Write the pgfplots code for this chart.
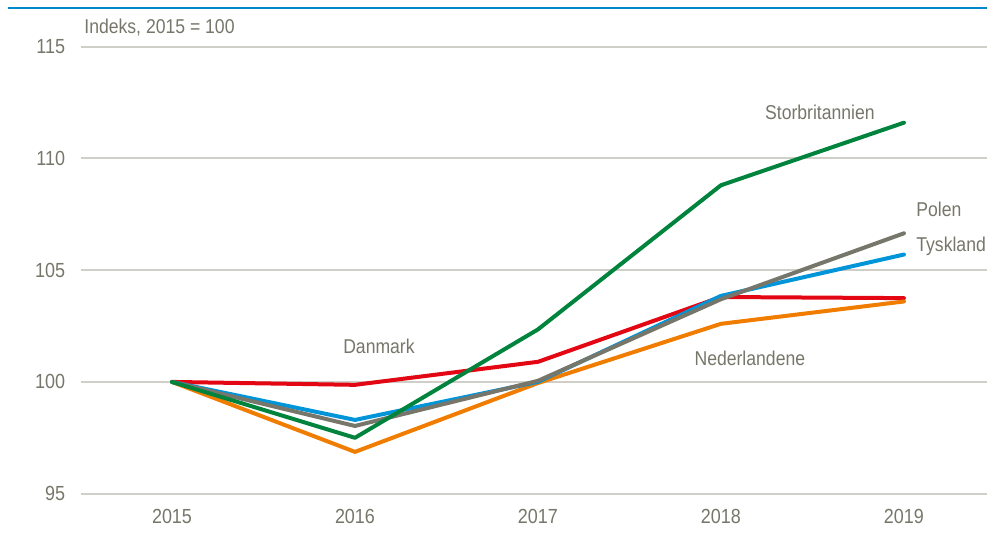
\documentclass[border=0pt]{standalone}
\usepackage{pgfplots}
\pgfplotsset{compat=1.18}
\usepackage{fontspec}
\setmainfont{Liberation Sans}[FakeStretch=0.88]
\definecolor{txtgray}{HTML}{77766A}
\definecolor{gridgray}{HTML}{D0CFC7}
\definecolor{topblue}{HTML}{0088CC}
\definecolor{dkred}{HTML}{E30613}
\definecolor{dkorange}{HTML}{F07D00}
\definecolor{deblue}{HTML}{0095D9}
\definecolor{plgray}{HTML}{77766A}
\definecolor{ukgreen}{HTML}{00843D}
\begin{document}
\begin{tikzpicture}
\begin{axis}[
    scale only axis,
    width=453pt, height=223.5pt,
    xmin=-0.497, xmax=4.454,
    ymin=95, ymax=115,
    axis line style={draw=none},
    clip=false,
    xtick={0,1,2,3,4},
    xticklabels={2015,2016,2017,2018,2019},
    ytick={95,100,105,110,115},
    ymajorgrids=true,
    grid style={gridgray, line width=1pt},
    major tick length=0pt,
    tick label style={font=\fontsize{10.2}{12}\selectfont, text=txtgray},
    /pgf/number format/assume math mode=true,
    yticklabel style={xshift=-4.5pt},
    xticklabel style={yshift=-4.5pt},
    every axis plot/.append style={line width=2pt, line join=round, line cap=round},
]
\draw[topblue, line width=1.2pt] (axis cs:-0.897,116.73) -- (axis cs:4.454,116.73);
\addplot[dkred] coordinates {(0,100) (1,99.87) (2,100.9) (3,103.8) (4,103.75)};
\addplot[dkorange] coordinates {(0,100) (1,96.87) (2,99.95) (3,102.6) (4,103.6)};
\addplot[deblue] coordinates {(0,100) (1,98.3) (2,100) (3,103.85) (4,105.7)};
\addplot[plgray] coordinates {(0,100) (1,98.03) (2,100.05) (3,103.7) (4,106.65)};
\addplot[ukgreen] coordinates {(0,100) (1,97.5) (2,102.35) (3,108.8) (4,111.6)};
\begin{scope}[every node/.style={font=\fontsize{10}{12}\selectfont, text=txtgray, inner sep=0pt}]
\node[anchor=west] at (axis cs:-0.481,115.84) {Indeks, 2015 = 100};
\node at (axis cs:3.541,112.08) {Storbritannien};
\node[anchor=west] at (axis cs:4.066,107.7) {Polen};
\node[anchor=west] at (axis cs:4.066,106.05) {Tyskland};
\node at (axis cs:1.131,101.61) {Danmark};
\node at (axis cs:3.158,101.07) {Nederlandene};
\end{scope}
\coordinate (bbsw) at (axis cs:-0.94,92.84);
\coordinate (bbne) at (axis cs:4.454,117.09);
\end{axis}
\pgfresetboundingbox
\path[use as bounding box] (bbsw) rectangle (bbne);
\end{tikzpicture}
\end{document}
